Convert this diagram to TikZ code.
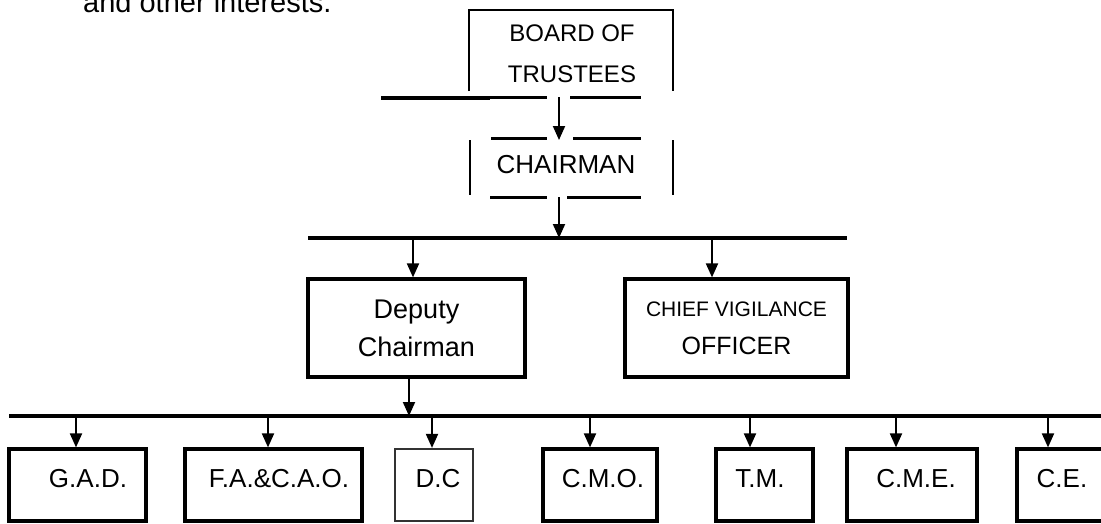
\documentclass[tikz,border=0pt]{standalone}
\usepackage{fontspec}
\setmainfont{Liberation Sans}
\usetikzlibrary{arrows.meta}

\begin{document}
\begin{tikzpicture}[x=1pt,y=-1pt,
  box/.style={draw,line width=3.2pt,inner sep=0pt,align=center,minimum height=98pt},
  unit/.style={draw,line width=3.2pt,inner sep=0pt,minimum height=72pt},
  arr/.style={line width=1.9pt,-{Triangle[length=14pt,width=12pt]}},
  bus/.style={line width=3.4pt},
  lbl/.style={inner sep=0pt,font=\fontsize{26}{30}\selectfont}]
\useasboundingbox (0,0) rectangle (1101,523);

\node[anchor=base west,inner sep=0pt,font=\fontsize{29}{34}\selectfont] (txt) at (83,12) {and other interests.};

% top of the chart
\node[lbl,align=center,font=\fontsize{24}{41}\selectfont] (board) at (572,54) {BOARD OF\\TRUSTEES};
\draw[line width=2.8pt] (469,91) |- (673,10) -- (673,91);
\draw[line width=4pt] (381,98) -- (490,98);
\draw[line width=3pt] (490,97) -- (547,97) (570,97) -- (641,97);

\node[lbl] (chair) at (566,165) {CHAIRMAN};
\draw[line width=3pt]
(491,138) -- (547,138) (573,138) -- (641,138)
(490,197) -- (547,197) (567,197) -- (641,197);
\draw[line width=2.8pt] (470,140) -- (470,195) (673,140) -- (673,195);

\coordinate (b0) at (559,97);
\coordinate (c0) at (559,140);
\coordinate (c1) at (559,197);
\coordinate (k0) at (559,238);
\draw[arr] (b0) -- (c0);
\draw[arr] (c1) -- (k0);

% second level
\coordinate (bus1w) at (308,238);
\coordinate (bus1e) at (847,238);
\draw[bus] (bus1w) -- (bus1e);

\node[box,minimum width=217pt,font=\fontsize{27}{38}\selectfont] (dep) at (416.5,328) {Deputy\\Chairman};
\node[box,minimum width=223pt,font=\fontsize{25}{38}\selectfont] (cvo) at (736.5,328) {{\fontsize{21}{38}\selectfont CHIEF VIGILANCE}\\OFFICER};

\coordinate (k1) at (413,238);
\coordinate (k2) at (712,238);
\draw[arr] (k1) -- (k1 |- dep.north);
\draw[arr] (k2) -- (k2 |- cvo.north);

% departments
\coordinate (d0) at (409,416);
\draw[arr] (d0 |- dep.south) -- (d0);

\coordinate (bus2w) at (9,416);
\coordinate (bus2e) at (1105,416);
\draw[bus] (bus2w) -- (bus2e);

\node[unit,minimum width=137pt] (gad) at (77.5,485) {};
\node[unit,minimum width=177pt] (fa) at (273.5,485) {};
\node[unit,minimum width=78pt,line width=2.2pt,draw=black!80] (dc) at (434,485) {};
\node[unit,minimum width=114pt] (cmo) at (600,485) {};
\node[unit,minimum width=97pt] (tm) at (764.5,485) {};
\node[unit,minimum width=130pt] (cme) at (912,485) {};
\node[unit,minimum width=98pt] (ce) at (1066,485) {};

\node[lbl] (gadt) at (88,479) {G.A.D.};
\node[lbl] (fat) at (279,479) {F.A.\&C.A.O.};
\node[lbl] (dct) at (438,479) {D.C};
\node[lbl] (cmot) at (603,479) {C.M.O.};
\node[lbl] (tmt) at (760,479) {T.M.};
\node[lbl] (cmet) at (916,479) {C.M.E.};
\node[lbl] (cet) at (1062,479) {C.E.};

\coordinate (e1) at (76,416);
\coordinate (e2) at (268,416);
\coordinate (e3) at (432,416);
\coordinate (e4) at (590,416);
\coordinate (e5) at (750,416);
\coordinate (e6) at (896,416);
\coordinate (e7) at (1048,416);
\draw[arr] (e1) -- (e1 |- gad.north);
\draw[arr] (e2) -- (e2 |- fa.north);
\draw[arr] (e3) -- (e3 |- dc.north);
\draw[arr] (e4) -- (e4 |- cmo.north);
\draw[arr] (e5) -- (e5 |- tm.north);
\draw[arr] (e6) -- (e6 |- cme.north);
\draw[arr] (e7) -- (e7 |- ce.north);
\end{tikzpicture}
\end{document}
